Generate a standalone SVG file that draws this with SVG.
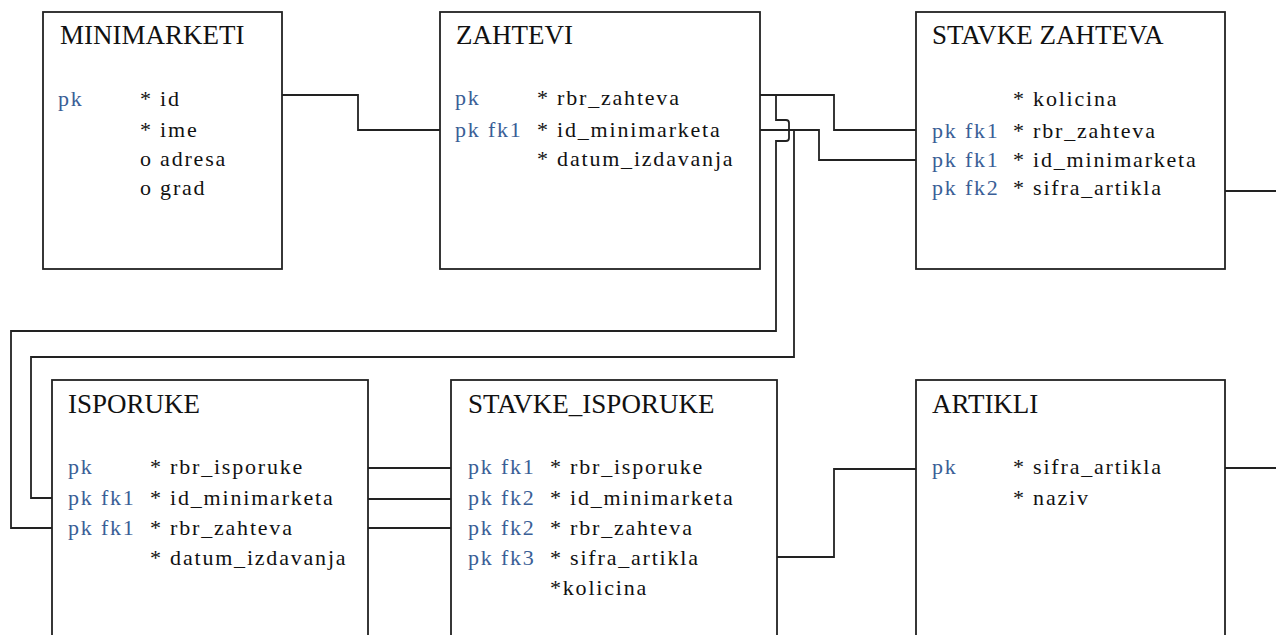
<svg xmlns="http://www.w3.org/2000/svg" width="1276" height="635" viewBox="0 0 1276 635">
<style>
.box{fill:#fff;stroke:#222;stroke-width:1.8}
text{font-family:'Liberation Serif','Tinos','Times New Roman','DejaVu Serif',serif}
.hd{font-size:27px;fill:#111}
.t{font-size:22px;letter-spacing:1.8px;fill:#111}
.k{font-size:22px;letter-spacing:1.8px;fill:#3a5e96}
.c{fill:none;stroke:#222;stroke-width:1.8}
</style>
<rect width="1276" height="635" fill="#fff"/>
<g id="connectors">
<path class="c" d="M282,95 H358 V130 H440"/>
<path class="c" d="M760,95 H834 V130 H916"/>
<path class="c" d="M760,130 H819 V160 H916"/>
<path class="c" d="M776,95 V120 H786 Q789,120 789,123 V138 Q789,141 786,141 H776 V331 H11 V528 H52"/>
<path class="c" d="M794,130 V357 H31 V498 H52"/>
<path class="c" d="M1225,191 H1276"/>
<path class="c" d="M368,468 H451"/>
<path class="c" d="M368,499 H451"/>
<path class="c" d="M368,528 H451"/>
<path class="c" d="M777,557 H834 V469 H916"/>
<path class="c" d="M1225,468 H1276"/>
</g>
<g id="minimarketi">
<rect class="box" x="43" y="12" width="239" height="257"/>
<text class="hd" x="60" y="44">MINIMARKETI</text>
<text class="k" x="58" y="106">pk</text>
<text class="t" x="140" y="106">* id</text>
<text class="t" x="140" y="137">* ime</text>
<text class="t" x="140" y="166">o adresa</text>
<text class="t" x="140" y="195">o grad</text>
</g>
<g id="zahtevi">
<rect class="box" x="440" y="12" width="320" height="257"/>
<text class="hd" x="456" y="44">ZAHTEVI</text>
<text class="k" x="455" y="105">pk</text>
<text class="k" x="455" y="137">pk fk1</text>
<text class="t" x="537" y="105">* rbr_zahteva</text>
<text class="t" x="537" y="137">* id_minimarketa</text>
<text class="t" x="537" y="166">* datum_izdavanja</text>
</g>
<g id="stavke_zahteva">
<rect class="box" x="916" y="12" width="309" height="257"/>
<text class="hd" x="932" y="44">STAVKE ZAHTEVA</text>
<text class="t" x="1013" y="106">* kolicina</text>
<text class="k" x="932" y="138">pk fk1</text>
<text class="k" x="932" y="167">pk fk1</text>
<text class="k" x="932" y="195">pk fk2</text>
<text class="t" x="1013" y="138">* rbr_zahteva</text>
<text class="t" x="1013" y="167">* id_minimarketa</text>
<text class="t" x="1013" y="195">* sifra_artikla</text>
</g>
<g id="isporuke">
<rect class="box" x="52" y="380" width="316" height="270"/>
<text class="hd" x="68" y="413">ISPORUKE</text>
<text class="k" x="68" y="474">pk</text>
<text class="k" x="68" y="505">pk fk1</text>
<text class="k" x="68" y="535">pk fk1</text>
<text class="t" x="150" y="474">* rbr_isporuke</text>
<text class="t" x="150" y="505">* id_minimarketa</text>
<text class="t" x="150" y="535">* rbr_zahteva</text>
<text class="t" x="150" y="565">* datum_izdavanja</text>
</g>
<g id="stavke_isporuke">
<rect class="box" x="451" y="380" width="326" height="270"/>
<text class="hd" x="468" y="413">STAVKE_ISPORUKE</text>
<text class="k" x="468" y="474">pk fk1</text>
<text class="k" x="468" y="505">pk fk2</text>
<text class="k" x="468" y="535">pk fk2</text>
<text class="k" x="468" y="565">pk fk3</text>
<text class="t" x="550" y="474">* rbr_isporuke</text>
<text class="t" x="550" y="505">* id_minimarketa</text>
<text class="t" x="550" y="535">* rbr_zahteva</text>
<text class="t" x="550" y="565">* sifra_artikla</text>
<text class="t" x="550" y="595">*kolicina</text>
</g>
<g id="artikli">
<rect class="box" x="916" y="380" width="309" height="270"/>
<text class="hd" x="932" y="413">ARTIKLI</text>
<text class="k" x="932" y="474">pk</text>
<text class="t" x="1013" y="474">* sifra_artikla</text>
<text class="t" x="1013" y="505">* naziv</text>
</g>
</svg>
